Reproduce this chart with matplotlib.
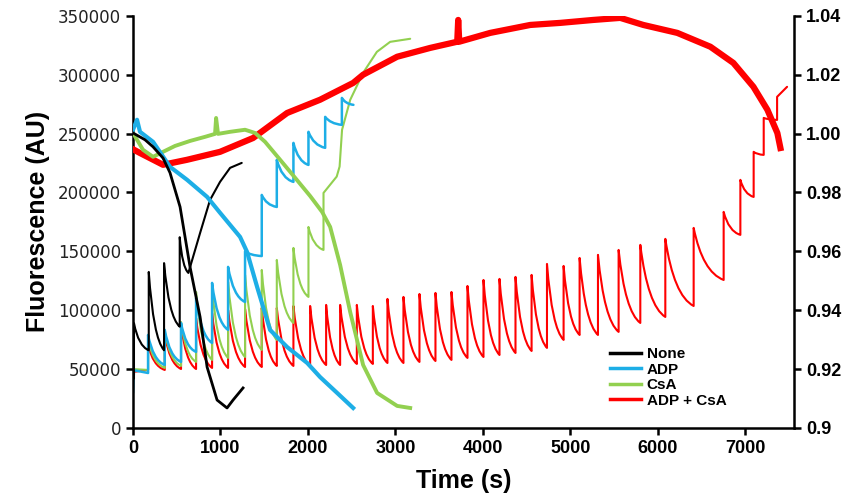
import matplotlib
matplotlib.use("Agg")
import matplotlib.pyplot as plt
from matplotlib.path import Path
from matplotlib.patches import PathPatch
from matplotlib.lines import Line2D

# ---- Ca2+ retention traces (left axis, sawtooth) ----
# black: None
none_start_t = [0]
none_start_v = [42000]
none_spike_t = [11, 180, 355, 534]
none_peak_v = [89000, 132500, 140000, 162000]
none_trough_v = [42000, 66000, 66000, 86000]
none_tail_t = [633, 767, 881, 995, 1110, 1243]
none_tail_v = [131700, 165600, 193700, 209000, 220900, 225100]

# blue: ADP
adp_start_t = [0, 11]
adp_start_v = [29700, 49000]
adp_spike_t = [172, 363, 549, 721, 904, 1087, 1281, 1472, 1644, 1834, 2006, 2197, 2388]
adp_peak_v = [79000, 83300, 89200, 110400, 123200, 136800, 150000, 197900, 227700,
              242100, 251500, 264200, 280300]
adp_trough_v = [46700, 53500, 56100, 64600, 72200, 83300, 107000, 146000, 187700,
                209000, 223400, 237900, 257400]
adp_tail_t = [2520]
adp_tail_v = [274400]

# green: CsA
csa_start_t = [0]
csa_start_v = [50000]
csa_spike_t = [172, 363, 549, 721, 904, 1087, 1281, 1472, 1644, 1834, 2006, 2178]
csa_peak_v = [74800, 81600, 90000, 115500, 119000, 124000, 130000, 134200, 142700,
              152900, 170700, 199600]
csa_trough_v = [49300, 51000, 52700, 56100, 57800, 59500, 60300, 66300, 74800,
                89200, 111300, 151200]
csa_tail_t = [2329, 2362, 2390, 2483, 2631, 2788, 2940, 3169]
csa_tail_v = [213500, 222000, 253200, 278600, 301600, 319400, 327900, 330500]

# red: ADP + CsA
both_start_t = [0]
both_start_v = [47600]
both_spike_t = [172, 363, 549, 721, 904, 1087, 1281, 1472, 1644, 1834, 2025, 2208,
                2368, 2559, 2742, 2909, 3092, 3275, 3458, 3641, 3824, 4007, 4190,
                4373, 4557, 4733, 4923, 5106, 5316, 5552, 5800, 6086, 6410, 6753,
                6944, 7096, 7211, 7364]
both_peak_v = [70500, 79000, 87500, 93400, 97700, 100200, 101100, 101900, 101900,
               103600, 103600, 104500, 104500, 104500, 103600, 109600, 111300,
               113800, 114700, 115500, 120600, 125700, 126600, 128300, 130000,
               139300, 137600, 144400, 147000, 151200, 155500, 160600, 169900,
               183500, 210700, 234500, 263300, 281200]
both_trough_v = [49300, 49300, 50100, 50100, 51000, 51000, 51800, 51800, 52700,
                 52700, 52700, 53500, 53500, 54400, 54400, 55200, 55200, 56100,
                 56900, 57800, 59500, 60300, 62000, 63700, 65400, 68000, 74800,
                 79000, 79000, 81600, 89200, 94300, 103600, 125700, 164000, 196200,
                 231900, 261600]
both_tail_t = [7478]
both_tail_v = [289700]

# ---- swelling traces (right axis) ----
none_abs_t = [0, 137, 229, 343, 423, 538, 652, 767, 847, 961, 1075, 1144, 1258]
none_abs_v = [1.0002, 0.9979, 0.9955, 0.9917, 0.9867, 0.9751, 0.9547, 0.9377,
              0.9207, 0.9095, 0.9068, 0.9095, 0.9136]

adp_abs_t = [0, 46, 80, 229, 423, 618, 847, 995, 1224, 1304, 1419, 1567, 1762,
             1991, 2139, 2334, 2517]
adp_abs_v = [1.0013, 1.0047, 1.0006, 0.9972, 0.9887, 0.9843, 0.9785, 0.9731,
             0.9649, 0.9598, 0.9479, 0.9333, 0.9275, 0.9221, 0.9173, 0.9119, 0.9068]

csa_abs_t = [0, 114, 229, 343, 480, 652, 824, 938, 950, 972, 1110, 1281, 1396,
             1510, 1682, 1853, 2025, 2162, 2254, 2368, 2483, 2631, 2791, 3020, 3169]
csa_abs_v = [1.0002, 0.9945, 0.9921, 0.9938, 0.9958, 0.9975, 0.9989, 0.9999,
             1.0053, 0.9999, 1.0006, 1.0013, 1.0002, 0.9972, 0.9911, 0.9850,
             0.9788, 0.9734, 0.9683, 0.9554, 0.9394, 0.9214, 0.9119, 0.9075, 0.9068]

both_abs_t = [11, 80, 343, 618, 995, 1373, 1762, 2139, 2517, 2631, 3020, 3398,
              3707, 3718, 3730, 4084, 4542, 4885, 5262, 5571, 5834, 6223, 6601,
              6864, 7093, 7253, 7367, 7402]
both_abs_v = [0.9945, 0.9934, 0.9894, 0.9911, 0.9938, 0.9985, 1.0070, 1.0115,
              1.0172, 1.0200, 1.0261, 1.0291, 1.0312, 1.0386, 1.0312, 1.0342,
              1.0369, 1.0376, 1.0386, 1.0393, 1.0369, 1.0342, 1.0295, 1.0240,
              1.0159, 1.0081, 1.0002, 0.9951]

labels = ["None", "ADP", "CsA", "ADP + CsA"]
colors = ["#000000", "#1DAEE6", "#92D050", "#FF0000"]

left_ticks = [0, 50000, 100000, 150000, 200000, 250000, 300000, 350000]
right_ticks = [0.9, 0.92, 0.94, 0.96, 0.98, 1.00, 1.02, 1.04]
right_ticklabels = ["0.9", "0.92", "0.94", "0.96", "0.98", "1.00", "1.02", "1.04"]
x_ticks = [0, 1000, 2000, 3000, 4000, 5000, 6000, 7000]


def sawtooth(ax, st, sv, kt, kp, kv, tt, tv, color, lw):
    # each addition: vertical jump to the peak, then a bezier decay to the next trough
    verts = [(st[0], sv[0])]
    codes = [Path.MOVETO]
    for t, v in zip(st[1:], sv[1:]):
        verts.append((t, v))
        codes.append(Path.LINETO)
    for i in range(len(kt)):
        if i == 0:
            verts.append((kt[0], kv[0]))
            codes.append(Path.LINETO)
        else:
            tp, yp = kt[i - 1], kp[i - 1]
            tn, yn = kt[i], kv[i]
            verts += [(tp + 0.3 * (tn - tp), yn + 0.15 * (yp - yn)), (tn, yn)]
            codes += [Path.CURVE3, Path.CURVE3]
        verts.append((kt[i], kp[i]))
        codes.append(Path.LINETO)
    for j, (t, v) in enumerate(zip(tt, tv)):
        if j == 0 and v < kp[-1]:
            tp, yp = kt[-1], kp[-1]
            verts += [(tp + 0.3 * (t - tp), v + 0.15 * (yp - v)), (t, v)]
            codes += [Path.CURVE3, Path.CURVE3]
        else:
            verts.append((t, v))
            codes.append(Path.LINETO)
    ax.add_patch(PathPatch(Path(verts, codes), fill=False, edgecolor=color,
                           lw=lw, joinstyle="round", capstyle="round"))


fig = plt.figure(figsize=(8.51, 4.99), dpi=100)
ax = fig.add_axes([0.1563, 0.1423, 0.777, 0.826])
ax2 = ax.twinx()

sawtooth(ax, both_start_t, both_start_v, both_spike_t, both_peak_v, both_trough_v,
         both_tail_t, both_tail_v, colors[3], 1.5)
sawtooth(ax, csa_start_t, csa_start_v, csa_spike_t, csa_peak_v, csa_trough_v,
         csa_tail_t, csa_tail_v, colors[2], 1.5)
sawtooth(ax, adp_start_t, adp_start_v, adp_spike_t, adp_peak_v, adp_trough_v,
         adp_tail_t, adp_tail_v, colors[1], 1.8)
sawtooth(ax, none_start_t, none_start_v, none_spike_t, none_peak_v, none_trough_v,
         none_tail_t, none_tail_v, colors[0], 1.5)

ax2.plot(both_abs_t, both_abs_v, color=colors[3], lw=4.5, solid_joinstyle="round")
ax2.plot(csa_abs_t, csa_abs_v, color=colors[2], lw=2.8, solid_joinstyle="round")
ax2.plot(adp_abs_t, adp_abs_v, color=colors[1], lw=3.0, solid_joinstyle="round")
ax2.plot(none_abs_t, none_abs_v, color=colors[0], lw=2.0, solid_joinstyle="round")

ax.set_xlim(0, 7560)
ax.set_ylim(0, 350000)
ax2.set_ylim(0.9, 1.04)

ax.set_xticks(x_ticks)
ax.set_xticklabels([str(x) for x in x_ticks], fontweight="bold", fontsize=13,
                   family="Liberation Sans")
ax.set_yticks(left_ticks)
ax.set_yticklabels([str(v) for v in left_ticks], fontsize=12, color="#222222")
ax2.set_yticks(right_ticks)
ax2.set_yticklabels(right_ticklabels, fontweight="bold", fontsize=13,
                    family="Liberation Sans")

for a in (ax, ax2):
    a.spines["top"].set_visible(False)
    for s in ("left", "bottom", "right"):
        a.spines[s].set_linewidth(1.8)
    a.tick_params(width=1.8, length=5, direction="out")
ax.spines["right"].set_visible(False)
ax2.spines["left"].set_visible(False)
ax2.spines["bottom"].set_visible(False)

ax.set_xlabel("Time (s)", fontsize=18, fontweight="bold",
              family="Liberation Sans", labelpad=9)
ax.set_ylabel("Fluorescence (AU)", fontsize=18, fontweight="bold",
              family="Liberation Sans", labelpad=6)

handles = [Line2D([], [], color=c, lw=2.5) for c in colors]
ax.legend(handles, labels, loc="upper left", bbox_to_anchor=(0.71, 0.215),
          frameon=False, borderpad=0, handlelength=2.0, handletextpad=0.4,
          labelspacing=0.1, prop={"weight": "bold", "size": 11,
                                  "family": "Liberation Sans"})

fig.savefig("out.png", dpi=100)
